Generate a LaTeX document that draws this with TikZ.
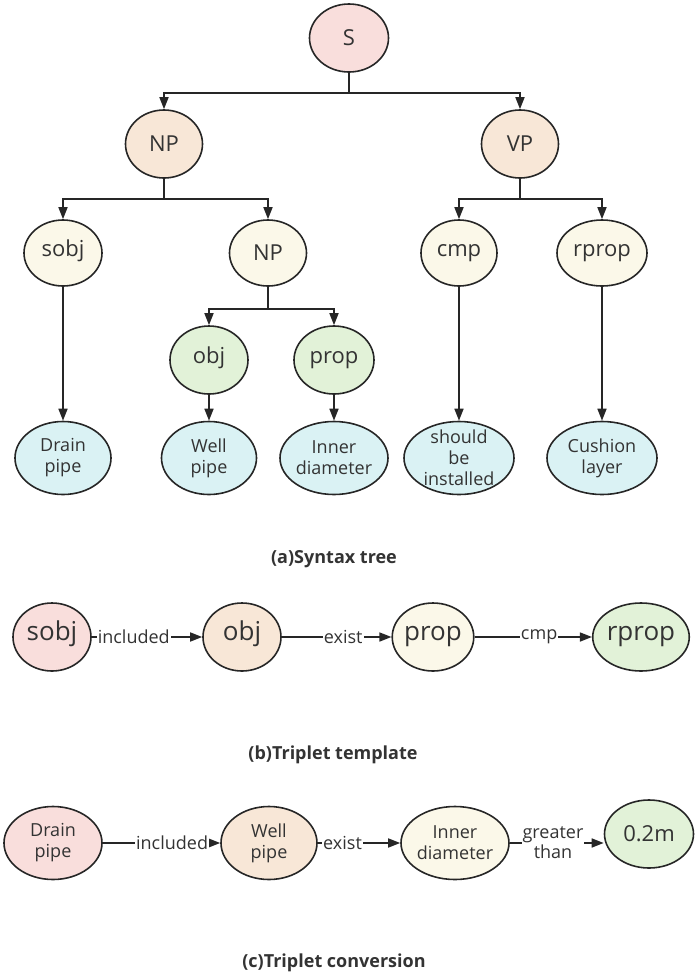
\documentclass[tikz,border=0pt]{standalone}
\usepackage{fontspec}
\setmainfont{Open Sans}
\usetikzlibrary{arrows.meta,shapes.geometric}
\definecolor{mypink}{HTML}{F9DEDC}
\definecolor{mypeach}{HTML}{F8E7D7}
\definecolor{mycream}{HTML}{FBF8E9}
\definecolor{mygreen}{HTML}{E2F2D8}
\definecolor{mycyan}{HTML}{DAF2F4}
\definecolor{myline}{HTML}{262626}
\definecolor{mytext}{HTML}{333333}
\tikzset{
  ell/.style={ellipse, draw=myline, line width=1.6pt, inner sep=0pt, align=center, text=mytext,
              font=\fontsize{22}{24}\selectfont},
  pinkell/.style={ell, fill=mypink},
  peachell/.style={ell, fill=mypeach},
  creamell/.style={ell, fill=mycream},
  greenell/.style={ell, fill=mygreen},
  leafell/.style={ell, fill=mycyan, font=\fontsize{18}{21}\selectfont},
  lowtext/.style={text height=0.76em, text depth=0.12em},
  sz/.style 2 args={minimum width=#1pt, minimum height=#2pt},
  arr/.style={-{Triangle[length=12pt,width=9pt]}, line width=1.6pt, draw=myline},
  lab/.style={font=\fontsize{18}{20}\selectfont, fill=white, inner sep=1pt, text=mytext, align=center},
  captext/.style={font=\bfseries\fontsize{18}{20}\selectfont, text=mytext},
}

\begin{document}
\begin{tikzpicture}[x=1pt, y=-1pt]
  \useasboundingbox (0,0) rectangle (699,978);
  % (a) syntax tree
  \node[pinkell, sz={79}{68}] (S) at (349,38) {S};
  \node[peachell, sz={77}{68}] (np) at (164,144) {NP};
  \node[peachell, sz={77}{68}] (vp) at (520,144) {VP};
  \node[creamell, sz={78}{66}, lowtext] (sobj) at (63,253) {sobj};
  \node[creamell, sz={77}{66}] (np2) at (268,253) {NP};
  \node[creamell, sz={76}{66}, lowtext] (cmp) at (459,253) {cmp};
  \node[creamell, sz={90}{66}, lowtext] (rprop) at (602,253) {rprop};
  \node[greenell, sz={78}{68}, lowtext] (obj) at (209,360) {obj};
  \node[greenell, sz={80}{68}, lowtext] (prop) at (334,360) {prop};
  \node[leafell, sz={96}{73}] (drain) at (63,458) {Drain\\pipe};
  \node[leafell, sz={95}{73}] (well) at (209,458) {Well\\pipe};
  \node[leafell, sz={108}{73}] (inner) at (334,458) {Inner\\diameter};
  \node[leafell, sz={110}{73}, inner sep=-7pt] (should) at (459,458) {should\\be\\installed};
  \node[leafell, sz={110}{73}] (cushion) at (602,458) {Cushion\\layer};
  \draw[arr] (S.south) -- ++(0,20) -| (np.north);
  \draw[arr] (S.south) -- ++(0,20) -| (vp.north);
  \draw[arr] (np.south) -- ++(0,20) -| (sobj.north);
  \draw[arr] (np.south) -- ++(0,20) -| (np2.north);
  \draw[arr] (vp.south) -- ++(0,20) -| (cmp.north);
  \draw[arr] (vp.south) -- ++(0,20) -| (rprop.north);
  \draw[arr] (np2.south) -- ++(0,22) -| (obj.north);
  \draw[arr] (np2.south) -- ++(0,22) -| (prop.north);
  \draw[arr] (sobj) -- (drain);
  \draw[arr] (obj) -- (well);
  \draw[arr] (prop) -- (inner);
  \draw[arr] (cmp) -- (should);
  \draw[arr] (rprop) -- (cushion);
  \node[captext] (capa) at (334,559) {(a)Syntax tree};
  % (b) triplet template
  \node[pinkell, sz={78}{68}, font=\fontsize{26}{28}\selectfont, lowtext] (bsobj) at (52,637) {sobj};
  \node[peachell, sz={78}{68}, font=\fontsize{26}{28}\selectfont, lowtext] (bobj) at (242,637) {obj};
  \node[creamell, sz={81}{68}, font=\fontsize{26}{28}\selectfont, lowtext] (bprop) at (433,637) {prop};
  \node[greenell, sz={89}{68}, font=\fontsize{26}{28}\selectfont, lowtext] (brprop) at (641,637) {rprop};
  \draw[arr] (bsobj) -- node[lab, pos=.38] {included} (bobj);
  \draw[arr] (bobj) -- node[lab, pos=.56] {exist} (bprop);
  \draw[arr] (bprop) -- node[lab, pos=.55] {cmp} (brprop);
  \node[captext] (capb) at (333,755) {(b)Triplet template};
  % (c) triplet conversion
  \node[pinkell, sz={98}{73}, font=\fontsize{18}{21}\selectfont] (cdrain) at (53,843) {Drain\\pipe};
  \node[peachell, sz={96}{73}, font=\fontsize{18}{21}\selectfont] (cwell) at (269,843) {Well\\pipe};
  \node[creamell, sz={108}{73}, font=\fontsize{18}{21}\selectfont] (cinner) at (455,843) {Inner\\diameter};
  \node[greenell, sz={89}{68}] (cval) at (649,834) {0.2m};
  \draw[arr] (cdrain) -- node[lab, pos=.59] {included} (cwell);
  \draw[arr] (cwell) -- node[lab, pos=.3] {exist} (cinner);
  \draw[arr] (cinner) -- node[lab, pos=.46] {greater\\than} (cval.west |- cinner);
  \node[captext] (capc) at (334,963) {(c)Triplet conversion};
\end{tikzpicture}
\end{document}
